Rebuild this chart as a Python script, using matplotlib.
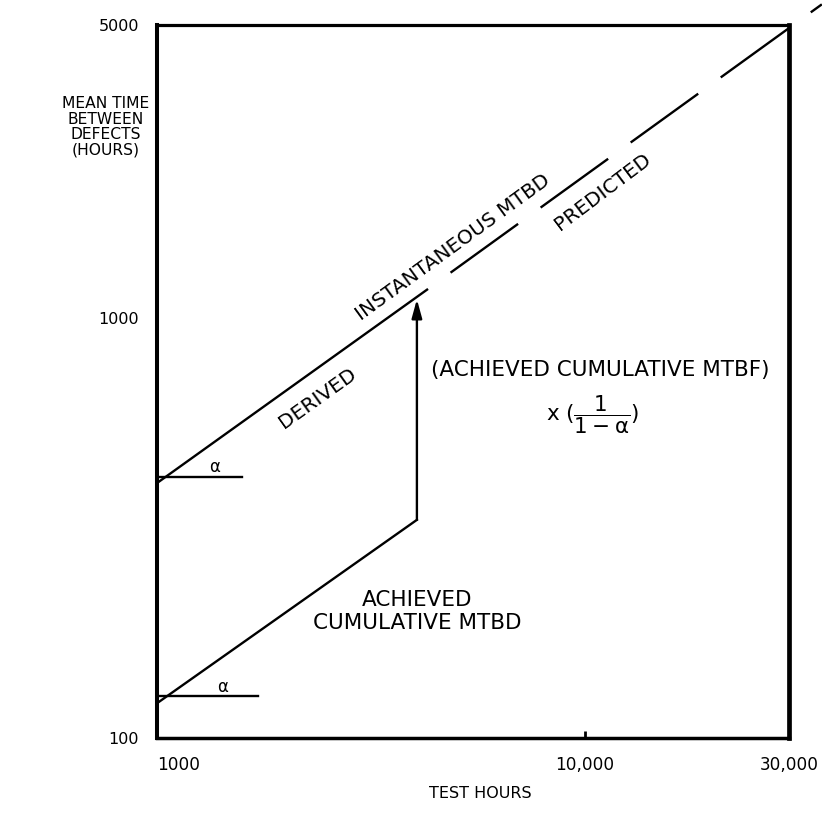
import numpy as np
import matplotlib.pyplot as plt

plt.rcParams['font.family'] = 'DejaVu Sans'
plt.rcParams['mathtext.fontset'] = 'dejavusans'
plt.rcParams['mathtext.default'] = 'regular'
plt.rcParams['lines.scale_dashes'] = False

############################### Datos ###############################
# MTBD instantaneo: tramo derivado (continuo) y tramo predicho (a trazos)
derived_x   = [1000, 4300]
derived_y   = [405, 1175]
predicted_x = [4300, 35800]
predicted_y = [1175, 5600]

# MTBD acumulado alcanzado
achieved_x = [1000, 4050]
achieved_y = [121, 331]

# salto acumulado -> instantaneo
jump_x = 4050
jump_y = [331, 1110]

# marcas de pendiente alfa
alpha_hi_x = [1000, 1580]
alpha_hi_y = 419
alpha_lo_x = [1000, 1720]
alpha_lo_y = 126

xticks  = [1000, 10000, 30000]
xlabels = ['1000', '10,000', '30,000']
yticks  = [100, 1000, 5000]
ylabels = ['100', '1000', '5000']

############################### Grafico ###############################
fig = plt.figure(figsize=(8.22, 8.15), dpi=100)
ax = fig.add_axes([157/822, 1-738/815, (789-157)/822, (738-25)/815])
ax.set_xscale('log')
ax.set_yscale('log')
ax.set_xlim(1000, 30000)
ax.set_ylim(100, 5000)

lw = 1.7
ax.plot(derived_x, derived_y, 'k-', lw=lw, solid_capstyle='butt')
ax.plot(predicted_x, predicted_y, color='k', lw=lw, clip_on=False,
        linestyle=(60, (60, 20)), dash_capstyle='butt')
ax.plot(achieved_x, achieved_y, 'k-', lw=lw)
ax.annotate('', xy=(jump_x, jump_y[1]), xytext=(jump_x, jump_y[0]),
            arrowprops=dict(arrowstyle='-|>,head_length=0.8,head_width=0.22',
                            mutation_scale=14, lw=lw, color='k',
                            shrinkA=0, shrinkB=0))

ax.plot(alpha_hi_x, [alpha_hi_y]*2, 'k-', lw=lw)
ax.plot(alpha_lo_x, [alpha_lo_y]*2, 'k-', lw=lw)
ax.text(1360, 443, 'α', fontsize=12, ha='center', va='center')
ax.text(1420, 132, 'α', fontsize=12, ha='center', va='center')

# textos interiores
fs_rot = 14.5
fs = 15.5
ax.text(2377, 646, 'DERIVED', fontsize=fs_rot, rotation=35.5,
        ha='center', va='center', rotation_mode='anchor')
ax.text(4916, 1472, 'INSTANTANEOUS MTBD', fontsize=fs_rot, rotation=36,
        ha='center', va='center', rotation_mode='anchor')
ax.text(11000, 2000, 'PREDICTED', fontsize=fs_rot, rotation=37,
        ha='center', va='center', rotation_mode='anchor')
ax.text(10840, 753, '(ACHIEVED CUMULATIVE MTBF)', fontsize=fs,
        ha='center', va='center')
ax.text(10440, 589, r'x $(\dfrac{1}{1-\alpha})$', fontsize=fs,
        ha='center', va='center')
ax.text(4050, 200, 'ACHIEVED\nCUMULATIVE MTBD', fontsize=fs,
        ha='center', va='center', linespacing=1.2)

# ejes
ax.set_xticks(xticks)
ax.set_xticklabels(xlabels)
ax.set_yticks(yticks)
ax.set_yticklabels(ylabels)
ax.minorticks_off()
ax.tick_params(axis='x', direction='in', length=5, width=2, pad=13, labelsize=12.2)
ax.tick_params(axis='y', length=0, pad=13, labelsize=11.5)
for i, t in enumerate(ax.xaxis.get_major_ticks()):
    t.tick1line.set_visible(i == 1)
    t.tick2line.set_visible(False)
ax.get_xticklabels()[0].set_ha('left')

ax.spines['left'].set_linewidth(2.9)
ax.spines['right'].set_linewidth(3.4)
ax.spines['top'].set_linewidth(2.3)
ax.spines['bottom'].set_linewidth(2.5)

fig.text(106/822, 1-127/815, 'MEAN TIME\nBETWEEN\nDEFECTS\n(HOURS)',
         fontsize=11.2, ha='center', va='center', linespacing=1.05)
fig.text(480/822, 1-793/815, 'TEST HOURS', fontsize=11.5,
         ha='center', va='center')

fig.savefig('out.png', dpi=100)
